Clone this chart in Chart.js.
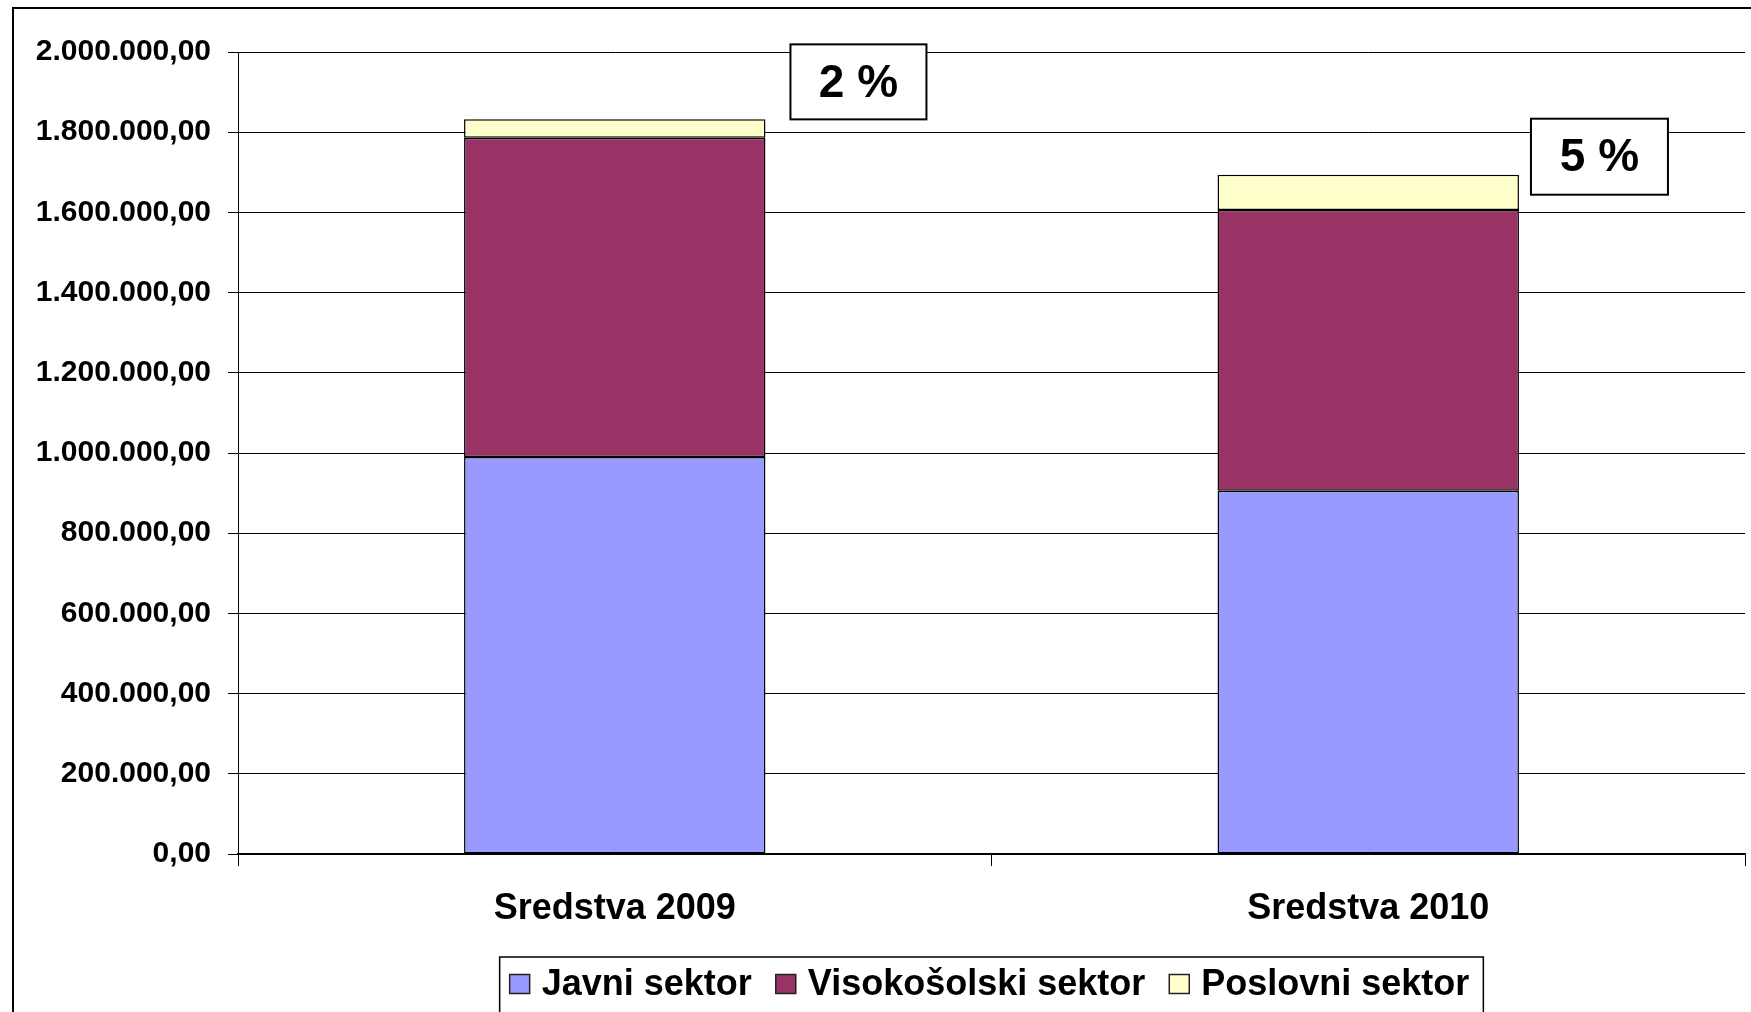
<!DOCTYPE html>
<html>
<head>
<meta charset="utf-8">
<title>Sredstva 2009 / 2010</title>
<script src="https://cdn.jsdelivr.net/npm/chart.js@4/dist/chart.umd.min.js"></script>
<style>
    html, body { margin: 0; padding: 0; background: #fff; }
    #wrap { width: 1751px; height: 1012px; }
</style>
</head>
<body>
<div id="wrap"><canvas id="chart" width="1751" height="1012"></canvas></div>
<script>
/* Sredstva po sektorjih – stacked bars */

// ── Data ────────────────────────────────────────────────────────────────
const categories   = ['Sredstva 2009', 'Sredstva 2010'];
const javni        = [990000, 906000];
const visokosolski = [796000, 700000];
const poslovni     = [46000, 88000];
const shareLabels  = ['2 %', '5 %'];

const seriesNames  = ['Javni sektor', 'Visokošolski sektor', 'Poslovni sektor'];
const seriesColors = ['#9999FF', '#993366', '#FFFFCC'];

const yMin  = 0;
const yMax  = 2000000;
const yStep = 200000;

const FONT = "'Liberation Sans', Arial, sans-serif";

function formatNumber(v) {
    return String(Math.round(v)).replace(/\B(?=(\d{3})+(?!\d))/g, '.') + ',00';
}

// ── Outer frame ─────────────────────────────────────────────────────────
const framePlugin = {
    id: 'frame',
    beforeDraw(chart) {
        const ctx = chart.ctx;
        ctx.save();
        ctx.fillStyle = '#fff';
        ctx.fillRect(0, 0, chart.width, chart.height);
        ctx.strokeStyle = '#000';
        ctx.lineWidth = 2;
        ctx.strokeRect(13, 8, chart.width + 40, chart.height + 40);
        ctx.restore();
    }
};

// ── Share boxes next to each bar ────────────────────────────────────────
const noteLayout = [
    { dx: 25, dy: -75, w: 136, h: 75 },
    { dx: 12, dy: -56, w: 137, h: 76 }
];

const sharePlugin = {
    id: 'shareBoxes',
    afterDatasetsDraw(chart) {
        const ctx  = chart.ctx;
        const top  = chart.getDatasetMeta(chart.data.datasets.length - 1);
        ctx.save();
        top.data.forEach(function (bar, i) {
            const n = noteLayout[i];
            const x = bar.x + bar.width / 2 + n.dx;
            const y = bar.y + n.dy;
            ctx.fillStyle = '#fff';
            ctx.fillRect(x, y, n.w, n.h);
            ctx.strokeStyle = '#000';
            ctx.lineWidth = 2;
            ctx.strokeRect(x, y, n.w, n.h);
            ctx.fillStyle = '#000';
            ctx.font = 'bold 46px ' + FONT;
            ctx.textAlign = 'center';
            ctx.textBaseline = 'middle';
            ctx.fillText(shareLabels[i], x + n.w / 2, y + n.h / 2 + 2);
        });
        ctx.restore();
    }
};

// ── Boxed legend under the axis ─────────────────────────────────────────
const legendPlugin = {
    id: 'boxLegend',
    afterDraw(chart) {
        const ctx = chart.ctx;
        const area = chart.chartArea;
        const sw = 20, gapText = 12, gapItem = 24, padL = 10, padR = 14;
        const cy = 984;

        ctx.save();
        ctx.font = 'bold 36px ' + FONT;
        ctx.textBaseline = 'middle';
        ctx.textAlign = 'left';

        const items = chart.data.datasets.map(function (ds) {
            return { label: ds.label, color: ds.backgroundColor, w: ctx.measureText(ds.label).width };
        });
        let total = padL + padR;
        items.forEach(function (it, i) {
            total += sw + gapText + it.w + (i < items.length - 1 ? gapItem : 0);
        });

        const left = (area.left + area.right) / 2 - total / 2;
        ctx.fillStyle = '#fff';
        ctx.fillRect(left, 957, total, 80);
        ctx.strokeStyle = '#000';
        ctx.lineWidth = 1.5;
        ctx.strokeRect(left, 957, total, 80);

        let x = left + padL;
        items.forEach(function (it) {
            ctx.fillStyle = it.color;
            ctx.fillRect(x, cy - 9.5, sw, 19);
            ctx.strokeStyle = '#222';
            ctx.lineWidth = 1.5;
            ctx.strokeRect(x, cy - 9.5, sw, 19);
            x += sw + gapText;
            ctx.fillStyle = '#000';
            ctx.fillText(it.label, x, cy + 1);
            x += it.w + gapItem;
        });
        ctx.restore();
    }
};

// ── Chart ───────────────────────────────────────────────────────────────
const seriesValues = [javni, visokosolski, poslovni];

new Chart(document.getElementById('chart'), {
    type: 'bar',
    data: {
        labels: categories,
        datasets: seriesNames.map(function (name, i) {
            return {
                label: name,
                data: seriesValues[i],
                backgroundColor: seriesColors[i],
                borderColor: '#000',
                borderWidth: 1.5,
                borderSkipped: false,
                barPercentage: 0.4,
                categoryPercentage: 1.0
            };
        })
    },
    options: {
        responsive: false,
        animation: false,
        layout: { padding: { left: 0, top: 52, right: 6, bottom: 0 } },
        plugins: {
            legend: { display: false },
            tooltip: { enabled: false }
        },
        scales: {
            x: {
                stacked: true,
                afterFit: function (scale) { scale.height = 158; },
                grid: {
                    display: true,
                    offset: true,
                    drawOnChartArea: false,
                    drawTicks: true,
                    tickLength: 12,
                    color: '#000',
                    lineWidth: 1
                },
                border: { display: true, color: '#000', width: 1.5 },
                ticks: {
                    color: '#000',
                    padding: 21,
                    font: { family: FONT, size: 36, weight: 'bold' }
                }
            },
            y: {
                stacked: true,
                min: yMin,
                max: yMax,
                afterFit: function (scale) { scale.width = 238; },
                grid: {
                    color: '#000',
                    lineWidth: 1,
                    drawTicks: true,
                    tickLength: 10
                },
                border: { display: true, color: '#000', width: 1 },
                ticks: {
                    stepSize: yStep,
                    color: '#000',
                    padding: 17,
                    font: { family: FONT, size: 30, weight: 'bold' },
                    callback: function (v) { return formatNumber(v); }
                }
            }
        }
    },
    plugins: [framePlugin, sharePlugin, legendPlugin]
});
</script>
</body>
</html>
